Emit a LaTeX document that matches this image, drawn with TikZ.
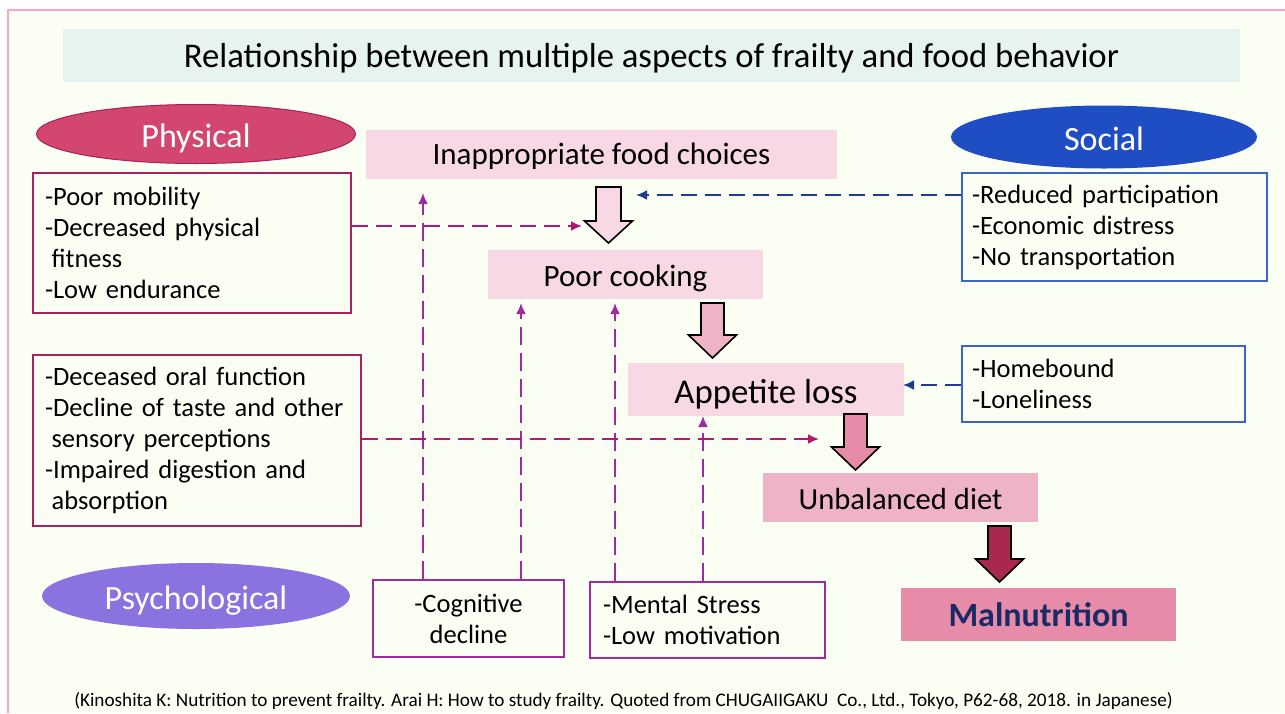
\documentclass[tikz,border=0pt]{standalone}
\usepackage{fontspec}
\setmainfont{Carlito}
\usetikzlibrary{shapes.geometric,arrows.meta}
\definecolor{bgc}{HTML}{FBFEF3}
\definecolor{framec}{HTML}{F4A8D0}
\definecolor{titlec}{HTML}{E6F3F0}
\definecolor{physc}{HTML}{D3466F}
\definecolor{physb}{HTML}{A8205E}
\definecolor{psychc}{HTML}{8A72E0}
\definecolor{socc}{HTML}{1E4DC4}
\definecolor{pinkA}{HTML}{F8D8E4}
\definecolor{pinkB}{HTML}{EEB3C6}
\definecolor{pinkC}{HTML}{E68CA8}
\definecolor{crims}{HTML}{A82850}
\definecolor{magc}{HTML}{B5176F}
\definecolor{purc}{HTML}{A02AA0}
\definecolor{navyc}{HTML}{1F3C8F}
\definecolor{socb}{HTML}{3A64CC}
\definecolor{maltext}{HTML}{1B2A66}
\newcommand\blkarrow[6]{% x, ytop, yhead, ytip, fill, halfshaft
  \filldraw[fill=#5,draw=black,line width=1.6,line join=miter]
    (#1-#6,#2) -- (#1+#6,#2) -- (#1+#6,#3) -- (#1+24,#3) -- (#1,#4)
    -- (#1-24,#3) -- (#1-#6,#3) -- cycle;}
\begin{document}
\begin{tikzpicture}[x=1pt,y=-1pt,
  bl/.style={text height=#1,text depth=0pt},
  oval/.style={ellipse,inner sep=0,text=white,font=\fontsize{34}{40}\selectfont,bl=26pt},
  listbox/.style={draw,line width=1.3,fill=bgc,inner ysep=0,align=left,font=\fontsize{26.5}{31}\selectfont},
  stage/.style={inner sep=0,font=\fontsize{31}{36}\selectfont},
  magdash/.style={magc,line width=2,dash pattern=on 16pt off 8pt,-{Latex[length=11pt,width=10pt]}},
  purdash/.style={purc,line width=2,dash pattern=on 18pt off 8pt,-{Latex[length=11pt,width=10pt]}},
  navydash/.style={navyc,line width=2,dash pattern=on 16pt off 8pt,-{Latex[length=11pt,width=10pt]}}]
\fill[white] (0,0) rectangle (1285,713);
\useasboundingbox (0,0) rectangle (1285,713);
\fill[bgc] (8,10) rectangle (1285,713);
\draw[framec,line width=2] (8,713) -- (8,10) -- (1285,10);

\node[fill=titlec,minimum width=1177,minimum height=53,inner sep=0,font=\fontsize{34.7}{40}\selectfont,bl=23pt] (title) at (651.5,55.5) {Relationship between multiple aspects of frailty and food behavior};

% ellipses
\node[oval,fill=physc,draw=physb,line width=1,minimum width=319,minimum height=59] (phys) at (196,134) {Physical};
\node[oval,fill=psychc,minimum width=308,minimum height=66] (psych) at (196,596) {Psychological};
\node[oval,fill=socc,minimum width=306,minimum height=63] (soc) at (1104,137) {Social};

% list boxes
\node[listbox,draw=physb,text width=294,inner xsep=12,minimum height=140] (pbox1) at (192,243)
  {-Poor mobility\\-Decreased physical\\\hspace*{0.25em}fitness\\-Low endurance};
\node[listbox,draw=physb,text width=304,inner xsep=12,minimum height=171,font=\fontsize{26.5}{30.8}\selectfont] (pbox2) at (197,440.5)
  {-Deceased oral function\\-Decline of taste and other\\\hspace*{0.25em}sensory perceptions\\-Impaired digestion and\\\hspace*{0.25em}absorption};
\node[listbox,draw=socb,text width=285,inner xsep=10,minimum height=108] (sbox1) at (1114.5,227)
  {-Reduced participation\\-Economic distress\\-No transportation};
\node[listbox,draw=socb,text width=263,inner xsep=10,minimum height=76] (sbox2) at (1103.5,384)
  {-Homebound\\-Loneliness};
\node[listbox,draw=purc,align=center,text width=171,inner xsep=10,minimum height=77] (cog) at (468.5,618.5)
  {-Cognitive\\decline};
\node[listbox,draw=purc,text width=209,inner xsep=13,minimum height=76] (ment) at (707.5,620)
  {-Mental Stress\\-Low motivation};

% stages
\node[stage,fill=pinkA,minimum width=471,minimum height=49,bl=19pt] (food) at (601.5,154.5) {Inappropriate food choices};
\node[stage,fill=pinkA,minimum width=275,minimum height=49,bl=23pt] (cook) at (625.5,274.5) {Poor cooking};
\node[stage,fill=pinkA,minimum width=276,minimum height=53,font=\fontsize{34.8}{40}\selectfont,bl=27pt] (app) at (766,389.5) {Appetite loss};
\node[stage,fill=pinkB,minimum width=275,minimum height=49,font=\fontsize{30.6}{36}\selectfont,bl=23pt] (unb) at (900.5,497.5) {Unbalanced diet};
\node[stage,fill=pinkC,minimum width=275,minimum height=53,text=maltext,font=\bfseries\fontsize{34}{40}\selectfont,bl=23pt] (mal) at (1038.5,614.5) {Malnutrition};

% block arrows
\blkarrow{608.5}{187}{221}{243}{pinkA}{12.5}
\blkarrow{712.5}{303}{335}{358}{pinkB}{11.5}
\blkarrow{855.5}{414}{447}{470}{pinkC}{11.5}
\blkarrow{999.5}{526}{559}{582}{crims}{11.5}

% dashed connectors
\coordinate (t1) at (582,226);
\coordinate (t2) at (819,439);
\coordinate (t3) at (636,195);
\coordinate (t4) at (903,385);
\coordinate (v1) at (423,193);
\coordinate (v2) at (521,303);
\coordinate (v3) at (615,303);
\coordinate (v4) at (703,416);
\draw[purdash] (cog.north -| v1) -- (v1);
\draw[purdash] (cog.north -| v2) -- (v2);
\draw[purdash] (ment.north -| v3) -- (v3);
\draw[purdash] (ment.north -| v4) -- (v4);
\draw[magdash] (pbox1.east |- t1) -- (t1);
\draw[magdash] (pbox2.east |- t2) -- (t2);
\draw[navydash] (sbox1.west |- t3) -- (t3);
\draw[navydash] (sbox2.west |- t4) -- (t4);

\node[inner sep=0,font=\fontsize{19.2}{23}\selectfont] (cite) at (623.5,701) {(Kinoshita K: Nutrition to prevent frailty. Arai H: How to study frailty. Quoted from CHUGAIIGAKU\ \ Co., Ltd., Tokyo, P62-68, 2018. in Japanese)};
\end{tikzpicture}
\end{document}
